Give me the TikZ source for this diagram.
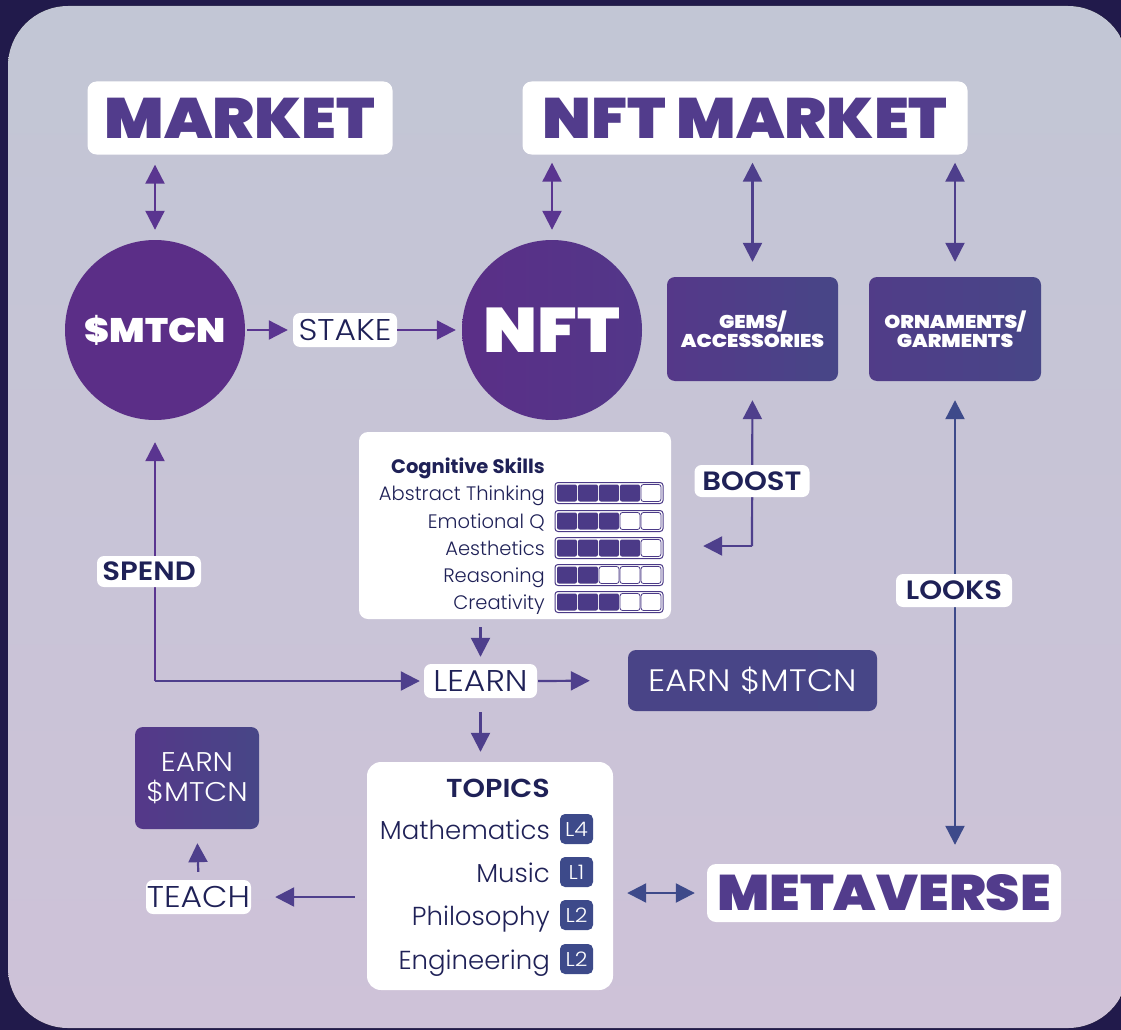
\documentclass[tikz,border=0pt]{standalone}
\usepackage{fontspec}
\setmainfont{Poppins Light}
\newfontfamily\lightw{Poppins Light}[FakeStretch=1.1]
\newfontfamily\heavy{Poppins Black}[FakeStretch=1.1]
\newfontfamily\semi{Poppins SemiBold}[FakeStretch=1.1]
\newfontfamily\boldf{Poppins Bold}
\usetikzlibrary{arrows.meta,calc}
\definecolor{frame}{HTML}{211A4B}
\definecolor{bgtop}{HTML}{C2C6D5}
\definecolor{bgbot}{HTML}{CEC2D8}
\definecolor{heavyp}{HTML}{523C8C}
\definecolor{navy}{HTML}{1F2157}
\definecolor{arr}{HTML}{4E3F8C}
\definecolor{arrtop}{HTML}{5A3590}
\definecolor{circA}{HTML}{5B2E87}
\definecolor{circB}{HTML}{543589}
\definecolor{boxA}{HTML}{553889}
\definecolor{boxB}{HTML}{474687}
\definecolor{badge}{HTML}{3D4A8A}
\definecolor{cell}{HTML}{4B3A87}
\tikzset{
  whitebox/.style={fill=white, rounded corners=9pt, inner sep=0pt},
  titlebox/.style={whitebox, text=heavyp, font=\heavy\fontsize{57}{57}\selectfont},
  tag/.style={fill=white, rounded corners=7pt, text=navy, inner sep=0pt, font=\lightw\fontsize{30}{30}\selectfont},
  boldtag/.style={tag, font=\semi\fontsize{26.5}{26.5}\selectfont},
  purplebox/.style={rounded corners=8pt, left color=boxA, right color=boxB, text=white, inner sep=0pt, align=center},
  tip/.style={Triangle[length=19pt,width=19pt]},
  arrow/.style={draw=arr, line width=2.2pt, -{Triangle[length=19pt,width=19pt]}},
  darrow/.style={draw=arr, line width=2.2pt, {Triangle[length=19pt,width=19pt]}-{Triangle[length=19pt,width=19pt]}},
  rowtext/.style={anchor=base east, text=navy, inner sep=0pt, font=\fontsize{19.5}{20}\selectfont},
  topictext/.style={anchor=base east, text=navy, inner sep=0pt, font=\fontsize{26}{26}\selectfont},
  lbadge/.style={fill=badge, rounded corners=5pt, text=white, minimum width=33pt, minimum height=30pt, inner sep=0pt, font=\lightw\fontsize{20}{20}\selectfont},
}
\begin{document}
\begin{tikzpicture}[x=1pt,y=-1pt]
\useasboundingbox (0,0) rectangle (1121,1030);
\fill[frame] (0,0) rectangle (1121,1030);
\fill[top color=bgtop, bottom color=bgbot, rounded corners=60pt] (8,6) rectangle (1128,1028);

% titles
\node[titlebox, minimum width=305pt, minimum height=73pt] (market) at (240,118) {MARKET};
\node[titlebox, minimum width=445pt, minimum height=73pt] (nftm) at (745,118) {NFT MARKET};

% circles
\node[circle, fill=circA, minimum size=180pt, inner sep=0pt, text=white, font=\heavy\fontsize{34}{34}\selectfont] (mtcn) at (155,330) {\$MTCN};
\node[circle, left color=circA!90!circB, right color=circB!90!boxB, minimum size=180pt, inner sep=0pt, text=white, font=\heavy\fontsize{63}{63}\selectfont] (nft) at (552,330) {NFT};

% gems / ornaments
\node[purplebox, minimum width=171pt, minimum height=104pt, font=\heavy\fontsize{18.5}{19}\selectfont] (gems) at (752.5,329) {GEMS/\\ACCESSORIES};
\node[purplebox, minimum width=172pt, minimum height=104pt, left color=boxA!70!boxB, font=\heavy\fontsize{18.5}{19}\selectfont] (orn) at (955,329) {ORNAMENTS/\\GARMENTS};

% stake
\node[tag, minimum width=104pt, minimum height=34pt] (stake) at (345,330) {STAKE};

% skills box
\node[whitebox, minimum width=312pt, minimum height=187pt] (skills) at (515,525.5) {};
\node[anchor=base east, text=navy, inner sep=0pt, font=\boldf\fontsize{19.5}{19.5}\selectfont] (skt) at (545,473) {Cognitive Skills};
\foreach \lab/\yy/\n [count=\i] in {Abstract Thinking/493/4, Emotional Q/521/3, Aesthetics/548/4, Reasoning/575/2, Creativity/602/3}{
  \node[rowtext] (row\i) at (545,\yy+7) {\lab};
  \draw[cell, line width=1pt, rounded corners=3pt] (555,\yy-10.5) rectangle (663,\yy+10.5);
  \foreach \c in {0,...,4}{
    \pgfmathsetmacro{\xa}{557+\c*21}
    \pgfmathsetmacro{\xb}{\xa+20}
    \ifnum\c<\n
      \fill[cell, rounded corners=2pt] (\xa,\yy-8.5) rectangle (\xb,\yy+8.5);
    \else
      \draw[cell, line width=0.8pt, fill=white, rounded corners=2.5pt] (\xa,\yy-8.5) rectangle (\xb,\yy+8.5);
    \fi
  }
}

% boost
\coordinate (bc) at (752,546);
\draw[arrow, shorten >=19pt] (bc) -- (gems.south);
\draw[arrow, shorten >=32pt] (bc) -- (bc -| skills.east);
\node[boldtag, minimum width=115pt, minimum height=32pt] (boost) at (752,481) {BOOST};

% learn
\node[tag, minimum width=113pt, minimum height=34pt] (learn) at (480.5,681) {LEARN};
\node[purplebox, left color=boxB!85!boxA, right color=boxB, minimum width=249pt, minimum height=61pt, font=\lightw\fontsize{31}{31}\selectfont] (earn1) at (752.5,680.5) {EARN \$MTCN};
\draw[arrow, shorten <=8pt, shorten >=7pt] (skills.south -| learn.north) -- (learn.north);
\draw[arrow, shorten <=1pt, shorten >=38pt] (learn.east) -- (earn1.west);

% spend
\coordinate (sc) at (155,681);
\draw[arrow, arrtop, shorten >=22pt] (sc) -- (mtcn.south);
\draw[arrow, shorten >=4pt] (sc) -- (learn.west);
\node[boldtag, minimum width=104pt, minimum height=31pt] (spend) at (149,571.5) {SPEND};

% topics
\node[whitebox, rounded corners=14pt, minimum width=246pt, minimum height=228pt] (topics) at (490,876) {};
\draw[arrow, shorten <=14pt, shorten >=10pt] (learn.south) -- (learn.south |- topics.north);
\node[anchor=base, text=navy, inner sep=0pt, font=\semi\fontsize{26}{26}\selectfont] (tt) at (498,797) {TOPICS};
\foreach \lab/\lv/\yy [count=\i] in {Mathematics/L4/829, Music/L1/872, Philosophy/L2/915, Engineering/L2/959}{
  \node[topictext] (top\i) at (550,\yy+10) {\lab};
  \node[lbadge] (lv\i) at (576.5,\yy) {\lv};
}

% teach / earn2
\node[tag, minimum width=105pt, minimum height=34pt] (teach) at (198.5,897) {TEACH};
\node[purplebox, minimum width=124pt, minimum height=102pt, font=\lightw\fontsize{27}{30}\selectfont] (earn2) at (197,778) {EARN\\\$MTCN};
\draw[arrow, shorten <=12pt, shorten >=24pt] (topics.west |- teach) -- (teach.east);
\draw[arrow, shorten <=8pt, shorten >=14pt] (teach.north) -- (earn2.south);

% metaverse
\node[titlebox, minimum width=354pt, minimum height=58pt, font=\heavy\fontsize{50}{50}\selectfont] (meta) at (884,893) {METAVERSE};
\draw[darrow, draw=badge, shorten <=14pt, shorten >=12pt] (topics.east |- meta) -- (meta.west);

% vertical links
\draw[darrow, arrtop, shorten <=10pt, shorten >=10pt] (market.south -| mtcn.north) -- (mtcn.north);
\draw[darrow, arrtop, shorten <=8pt, shorten >=10pt] (nftm.south -| nft.north) -- (nft.north);
\draw[darrow, shorten <=8pt, shorten >=15pt] (nftm.south -| gems.north) -- (gems.north);
\draw[darrow, shorten <=8pt, shorten >=15pt] (nftm.south -| orn.north) -- (orn.north);
\draw[darrow, draw=badge, shorten <=19pt, shorten >=19pt] (orn.south) -- (orn.south |- meta.north);
\node[boldtag, minimum width=116pt, minimum height=33pt] (looks) at (954,590.5) {LOOKS};

% stake arrows
\draw[arrow, arrtop, shorten <=2pt, shorten >=5pt] (mtcn.east) -- (stake.west);
\draw[arrow, arrtop, shorten >=6pt] (stake.east) -- (nft.west);
\end{tikzpicture}
\end{document}
